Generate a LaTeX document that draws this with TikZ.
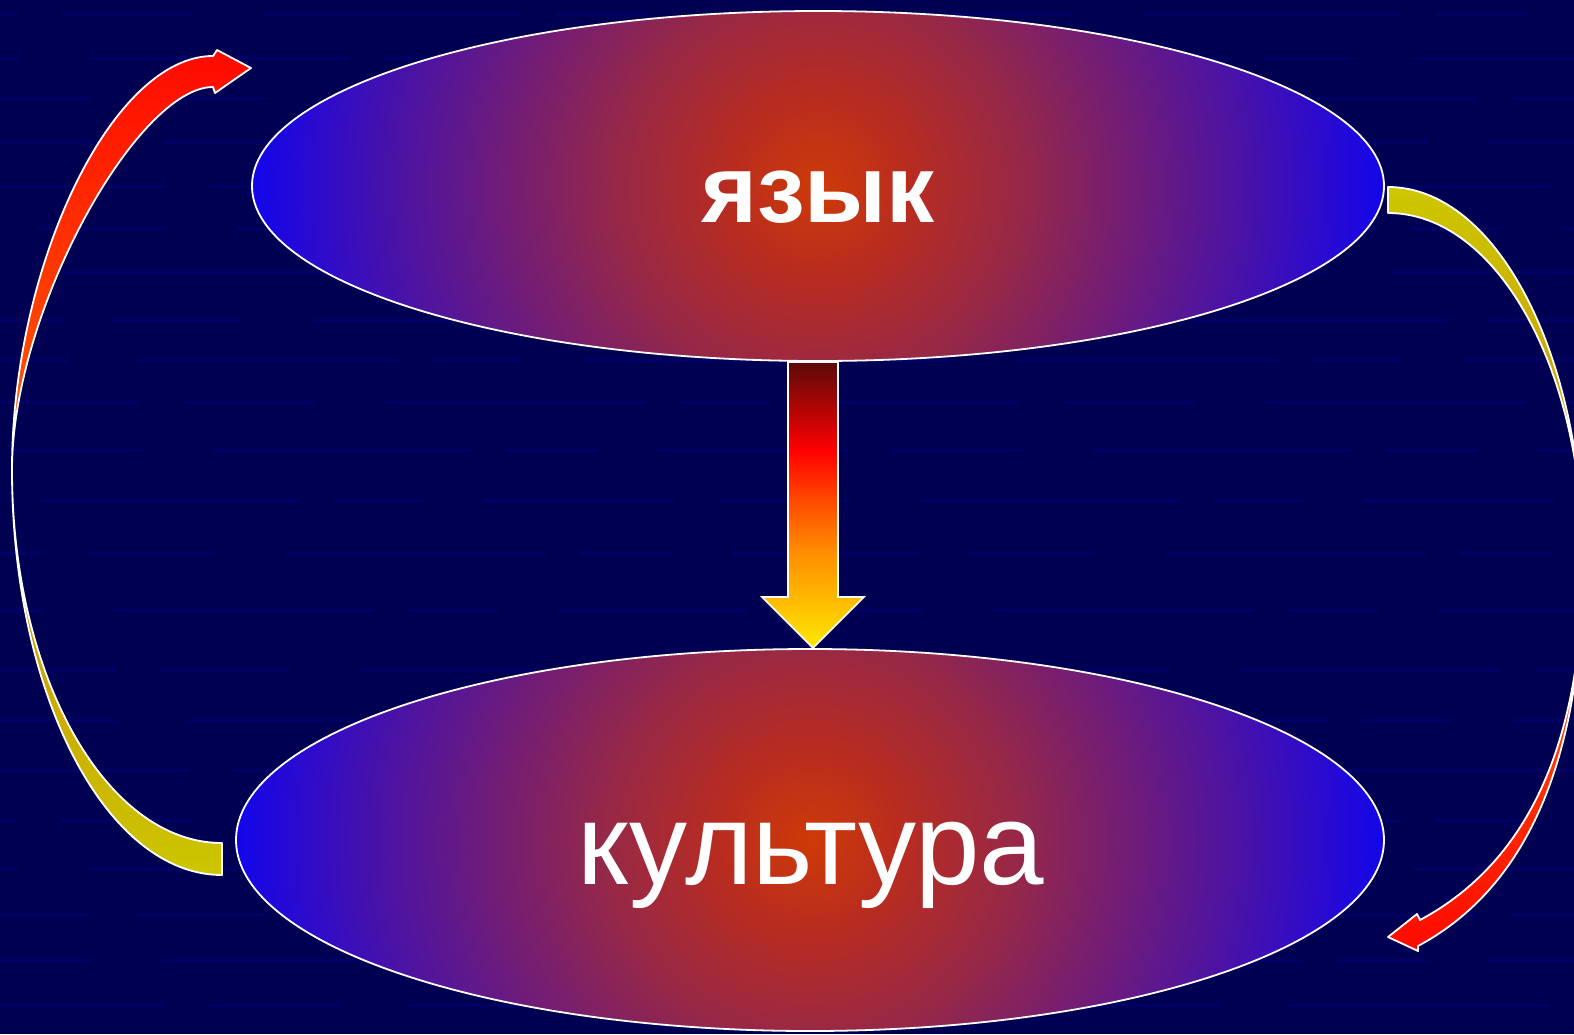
\documentclass[tikz,border=0pt]{standalone}
\usepackage{fontspec}
\setmainfont{Liberation Sans}
\usetikzlibrary{shapes.geometric,calc}

% colours
\definecolor{bgnavy}{RGB}{0,0,82}
\definecolor{bgstripe}{RGB}{0,0,102}
\definecolor{glowA}{RGB}{206,58,8}
\definecolor{glowA2}{RGB}{184,44,32}
\definecolor{glowB}{RGB}{150,40,72}
\definecolor{glowC}{RGB}{112,28,120}
\definecolor{glowD}{RGB}{72,18,168}
\definecolor{glowD2}{RGB}{42,10,208}
\definecolor{glowE}{RGB}{18,6,234}
\definecolor{dropYellow}{RGB}{255,232,0}
\definecolor{dropOrange}{RGB}{255,140,0}
\definecolor{dropRedOr}{RGB}{255,72,0}
\definecolor{dropRed}{RGB}{255,0,0}
\definecolor{dropDark}{RGB}{92,10,10}
\definecolor{flameTop}{RGB}{255,10,0}
\definecolor{flameLow}{RGB}{255,96,0}
\definecolor{goldHigh}{RGB}{204,134,0}
\definecolor{goldLow}{RGB}{204,198,0}
\definecolor{goldTop}{RGB}{204,200,0}

% round glow used inside the ovals (25bp = glow radius)
\pgfdeclareradialshading{ovalglow}{\pgfpoint{0bp}{0bp}}{%
  color(0bp)=(glowA); color(4bp)=(glowA2); color(9bp)=(glowB);
  color(14bp)=(glowC); color(19bp)=(glowD); color(22.5bp)=(glowD2);
  color(25bp)=(glowE); color(50bp)=(glowE)}

% vertical glow for the straight arrow (bottom 25bp, top 75bp)
\pgfdeclareverticalshading{dropglow}{100bp}{%
  color(0bp)=(dropYellow); color(25bp)=(dropYellow); color(42bp)=(dropOrange);
  color(51bp)=(dropRedOr); color(59.5bp)=(dropRed); color(75bp)=(dropDark);
  color(100bp)=(dropDark)}

\tikzset{
  oval/.style={ellipse, draw=white, line width=1.8pt, inner sep=0pt,
    path picture={\shade[shading=ovalglow]
      ([shift={(-#1,-#1)}]path picture bounding box.center) rectangle
      ([shift={(#1,#1)}]path picture bounding box.center);}},
  ribbon/.style={draw=white, line width=1.8pt, line join=round},
  stripe/.style={bgstripe, line width=3pt},
  label/.style={text=white, anchor=base, inner sep=0pt}
}

\begin{document}
\begin{tikzpicture}[x=1pt,y=-1pt]
\useasboundingbox (0,0) rectangle (1574,1034);
\fill[bgnavy] (0,0) rectangle (1574,1034);

% faint horizontal texture of the backdrop
\foreach \row [count=\i] in {14,58,98,142,186,228,272,320,360,402,450,500,553,610,670,720,770,820,868,915,960,1005} {
  \pgfmathsetmacro\ph{mod(\i*173,420)}
  \draw[stripe, dash pattern=on 190pt off 45pt on 130pt off 70pt on 260pt off 35pt on 90pt off 60pt, dash phase=\ph pt]
    (0,\row) -- (1574,\row);
}

% end points of the curved arrows
\coordinate (lxing) at (12,470);
\coordinate (ltailA) at (222,875);
\coordinate (ltailB) at (222,843);
\coordinate (lheadA) at (213,56);
\coordinate (lheadB) at (213,87);
\coordinate (ltip) at (251,68);
\coordinate (rxing) at (1583,560);
\coordinate (rtailA) at (1388,187);
\coordinate (rtailB) at (1388,213);
\coordinate (rheadA) at (1418,946);
\coordinate (rheadB) at (1420,920);
\coordinate (rtip) at (1388,937);

% left curved arrow: lower (golden) part
\shadedraw[ribbon, top color=goldHigh, bottom color=goldLow]
  (lxing) .. controls (12,694) and (106,875) .. (ltailA)
  -- (ltailB) .. controls (106,843) and (12,676) .. (lxing) -- cycle;
% left curved arrow: upper (red) part with head
\shadedraw[ribbon, top color=flameTop, bottom color=flameLow]
  (lxing) .. controls (12,263) and (113,56) .. (lheadA)
  -- (217,50) -- (ltip) -- (215,93) -- (lheadB)
  .. controls (138,87) and (12,310) .. (lxing) -- cycle;

% right curved arrow: upper (golden) part
\shadedraw[ribbon, top color=goldTop, bottom color=goldHigh]
  (rtailA) .. controls (1496,187) and (1583,354) .. (rxing)
  .. controls (1583,368) and (1496,213) .. (rtailB) -- cycle;
% right curved arrow: lower (red) part with head
\shadedraw[ribbon, top color=flameLow, bottom color=flameTop]
  (rxing) .. controls (1583,780) and (1515,894) .. (rheadA)
  -- (1418,951) -- (rtip) -- (1417,914) -- (rheadB)
  .. controls (1517,868) and (1583,760) .. (rxing) -- cycle;

% the two ovals
\node[oval=566, minimum width=1132pt, minimum height=350pt] (lang) at (818,186) {};
\node[oval=574, minimum width=1148pt, minimum height=382pt] (cult) at (810,840) {};

% straight arrow between the ovals
\coordinate (dropTop) at (813,362);
\coordinate (dropTip) at (813,648);
\shadedraw[ribbon, line width=1.6pt, line join=miter, shading=dropglow]
  ($(dropTop)+(-25,0)$) -- ($(dropTop)+(25,0)$) -- ($(dropTip)+(25,-51)$)
  -- ($(dropTip)+(51,-51)$) -- (dropTip) -- ($(dropTip)+(-51,-51)$)
  -- ($(dropTip)+(-25,-51)$) -- cycle;

% labels
\node[label, font=\bfseries\fontsize{96}{110}\selectfont] (langtext) at (818,222) {язык};
\node[label, font=\fontsize{116}{130}\selectfont] (culttext) at (811,884) {культура};
\end{tikzpicture}
\end{document}
